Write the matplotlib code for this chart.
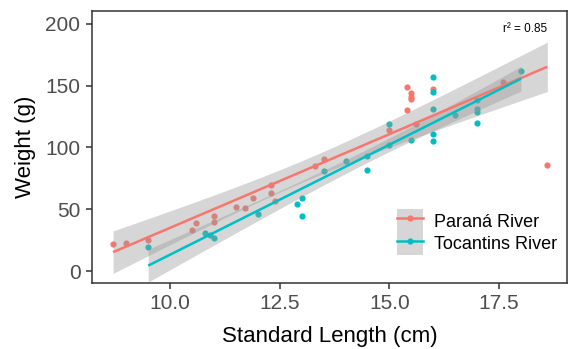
import numpy as np
import matplotlib
matplotlib.use("Agg")
import matplotlib.pyplot as plt
from matplotlib.patches import Patch
from matplotlib.lines import Line2D

plt.rcParams['font.family'] = ['Liberation Sans', 'DejaVu Sans']

# Parana River
parana_len = [8.7, 9.0, 9.5, 10.5, 10.6, 11.0, 11.0, 11.5, 11.7, 11.9, 12.3, 12.3, 12.4,
              13.3, 13.5, 15.0, 15.4, 15.4, 15.5, 15.5, 15.5, 15.6, 16.0, 17.6, 18.6]
parana_wt = [22, 23, 25, 33, 39, 45, 40, 52, 51, 59, 70, 63, 57,
             85, 91, 114, 149, 130, 144, 141, 139, 119, 147, 153, 86]

# Tocantins River
tocantins_len = [9.5, 10.8, 10.9, 11.0, 12.0, 12.9, 13.0, 13.0, 13.5, 14.0, 14.5, 14.5, 15.0,
                 15.0, 15.5, 16.0, 16.0, 16.0, 16.0, 16.0, 16.5, 17.0, 17.0, 17.0, 17.0, 18.0]
tocantins_wt = [20, 31, 29, 27, 46, 54, 59, 45, 81, 89, 93, 82, 119,
                102, 106, 157, 145, 131, 111, 105, 126, 138, 131, 129, 120, 162]

groups = ["Paraná River", "Tocantins River"]
colors = ["#F8766D", "#00BFC4"]
r2_label = "r² = 0.85"

# t quantiles (0.975) for df = n - 2
t_crit = {23: 2.069, 24: 2.064}


def lm_fit(x, y):
    x = np.asarray(x, float)
    y = np.asarray(y, float)
    n = len(x)
    slope, intercept = np.polyfit(x, y, 1)
    resid = y - (intercept + slope * x)
    s = np.sqrt(np.sum(resid ** 2) / (n - 2))
    sxx = np.sum((x - x.mean()) ** 2)
    xs = np.linspace(x.min(), x.max(), 80)
    fit = intercept + slope * xs
    se = s * np.sqrt(1.0 / n + (xs - x.mean()) ** 2 / sxx)
    hw = t_crit[n - 2] * se
    return xs, fit, fit - hw, fit + hw


fig = plt.figure(figsize=(5.73, 3.49), dpi=100)
ax = fig.add_axes((0.1606, 0.1905, 0.8290, 0.7775))

data = [(parana_len, parana_wt), (tocantins_len, tocantins_wt)]

for (x, y), c in zip(data, colors):
    ax.scatter(x, y, s=20, color=c, linewidths=0, zorder=2)

fits = [lm_fit(x, y) for x, y in data]
for xs, fit, lo, hi in fits:
    ax.fill_between(xs, lo, hi, color="#999999", alpha=0.4, linewidth=0, zorder=3)
for (xs, fit, lo, hi), c in zip(fits, colors):
    ax.plot(xs, fit, color=c, lw=1.8, zorder=4, solid_capstyle="butt")

ax.text(18.6, 195.5, r2_label, ha="right", va="center", fontsize=8.5, color="black")

ax.set_xlim(8.22, 19.05)
ax.set_ylim(-9, 210)
ax.set_xticks([10.0, 12.5, 15.0, 17.5])
ax.set_xticklabels(["10.0", "12.5", "15.0", "17.5"])
ax.set_yticks([0, 50, 100, 150, 200])

for sp in ax.spines.values():
    sp.set_color("#333333")
    sp.set_linewidth(1.1)
ax.tick_params(direction="out", length=4.3, width=1.1, color="#333333",
               labelsize=15, labelcolor="#4D4D4D", pad=4)
ax.set_xlabel("Standard Length (cm)", fontsize=16, labelpad=9)
ax.set_ylabel("Weight (g)", fontsize=16, labelpad=7)

handles = []
for c in colors:
    bg = Patch(facecolor="#D6D6D6", edgecolor="none")
    ln = Line2D([0], [0], color=c, lw=1.8, marker="o", markersize=4.5, markeredgewidth=0)
    handles.append((bg, ln))
fig.legend(handles, groups, loc="upper left", bbox_to_anchor=(0.6923, 0.4003),
           frameon=False, fontsize=13, borderpad=0, borderaxespad=0,
           handlelength=1.44, handleheight=1.55, labelspacing=0, handletextpad=0.65)

fig.savefig("out.png", dpi=100)
